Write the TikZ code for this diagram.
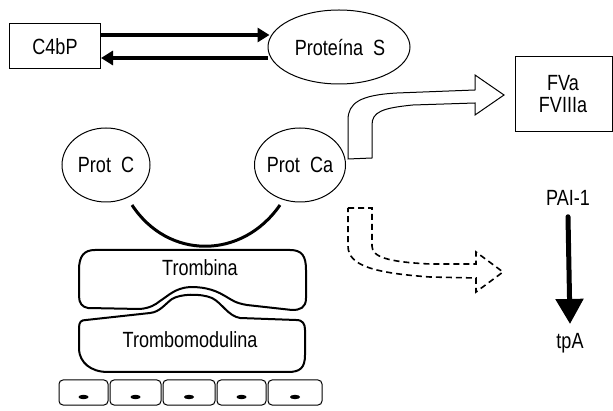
\documentclass[tikz,border=0pt]{standalone}
\usepackage{fontspec}
\setmainfont{Liberation Sans}[FakeStretch=0.82]
\usetikzlibrary{arrows.meta,shapes.geometric}
\begin{document}
\begin{tikzpicture}[x=1pt,y=-1pt,
  lbl/.style={font=\fontsize{22}{22}\selectfont, inner sep=0pt},
  boxn/.style={draw, line width=1pt, inner sep=0pt},
  ell/.style={draw, ellipse, line width=1pt, inner sep=0pt},
  blob/.style={draw, line width=2pt, line join=round},
  cell/.style={draw, line width=1pt, rounded corners=4pt},
  bigarrow/.style={line width=3.5pt, -{Triangle[length=12pt,width=14pt]}},
  hollow/.style={draw, line width=1pt, line join=miter},
  dashhollow/.style={draw, line width=1.6pt, dash pattern=on 6pt off 4pt}
]
\useasboundingbox (0,0) rectangle (613,411);

% C4bP and Proteina S
\node[boxn, minimum width=91pt, minimum height=45pt] (c4bp) at (55,46.5) {};
\node[lbl] (c4bpt) at (55,47) {C4bP};
\node[ell, minimum width=142pt, minimum height=74pt] (protS) at (339,47) {};
\node[lbl] (protSt) at (340,48) {Proteína~~S};
\coordinate (a1s) at (c4bp.east |- 0,35);
\coordinate (a1e) at (protS.west |- 0,35);
\coordinate (a2s) at (protS.west |- 0,58);
\coordinate (a2e) at (c4bp.east |- 0,58);
\draw[bigarrow] (a1s) -- ([xshift=2pt]a1e);
\draw[bigarrow] (a2s) -- (a2e);

% FVa FVIIIa
\node[boxn, minimum width=97pt, minimum height=75pt] (fva) at (563.5,94.5) {};
\node[lbl, align=center] (fvat) at (563,94) {FVa\\FVIIIa};

% Prot C and Prot Ca
\node[ell, minimum width=88pt, minimum height=74pt] (protC) at (106,165) {};
\node[lbl] (protCt) at (106,165) {Prot~~C};
\node[ell, minimum width=91pt, minimum height=74pt] (protCa) at (300,165) {};
\node[lbl] (protCat) at (300,165) {Prot~~Ca};

% arc between Prot C and Prot Ca
\coordinate (arcL) at (132,205);
\coordinate (arcR) at (280,205);
\draw[line width=3pt] (arcL) .. controls (168,260) and (242,260) .. (arcR);

% Trombina
\draw[blob] (95,250) -- (290,250)
  .. controls (302,250) and (306,256) .. (306,270)
  -- (306,298) .. controls (306,308) and (300,310) .. (292,310)
  -- (247,305) .. controls (235,303) and (232,300) .. (225,296)
  .. controls (212,288) and (200,287) .. (190,287)
  .. controls (175,288) and (168,296) .. (160,301)
  .. controls (155,305) and (150,308) .. (140,309)
  -- (88,308) .. controls (82,307) and (79,303) .. (79,296)
  -- (79,270) .. controls (79,256) and (84,250) .. (95,250) -- cycle;
\node[lbl] (tromb) at (200,268) {Trombina};

% Trombomodulina
\draw[blob] (86,320) -- (150,313)
  .. controls (160,312) and (165,304) .. (172,299)
  .. controls (180,294) and (200,293) .. (212,298)
  .. controls (222,303) and (228,316) .. (240,318)
  -- (296,320) .. controls (303,320) and (305,324) .. (305,330)
  -- (305,355) .. controls (305,368) and (300,372) .. (288,372)
  -- (108,372) .. controls (90,372) and (80,362) .. (79,350)
  -- (79,328) .. controls (79,322) and (81,320) .. (86,320) -- cycle;
\node[lbl] (trombmod) at (190,340) {Trombomodulina};

% cells
\foreach \xa/\xb [count=\i] in {59/108,110/161,163/215,217/266,268/322}{
  \draw[cell] (\xa,380) rectangle (\xb,405);
  \fill ({(\xa+\xb)/2},397) ellipse (5pt and 2.2pt);
}

% solid hollow arrow
\draw[hollow] (348,159) -- (348,120)
  .. controls (348,103) and (360,95) .. (397,93)
  -- (475,90) -- (475,75) -- (504,95) -- (475,115) -- (475,103)
  -- (413,105) .. controls (382,108) and (372,112) .. (372,125)
  -- (372,158) -- cycle;

% dashed hollow arrow
\draw[dashhollow] (348,208) -- (372,208) -- (372,246)
  .. controls (372,257) and (388,262) .. (430,264)
  -- (476,264) -- (476,252) -- (503,272) -- (476,292) -- (476,278)
  -- (430,277) .. controls (375,273) and (348,266) .. (348,246) -- cycle;

% PAI-1 -> tpA
\node[lbl] (pai) at (568,198) {PAI-1};
\node[lbl] (tpa) at (570,343) {tpA};
\coordinate (paiS) at ([yshift=-11pt]pai.south);
\coordinate (tpaN) at ([yshift=9pt]tpa.north);
\draw[line width=5pt, line cap=round, -{Triangle[length=25pt,width=27pt]}] (paiS) -- (tpaN);
\end{tikzpicture}
\end{document}
